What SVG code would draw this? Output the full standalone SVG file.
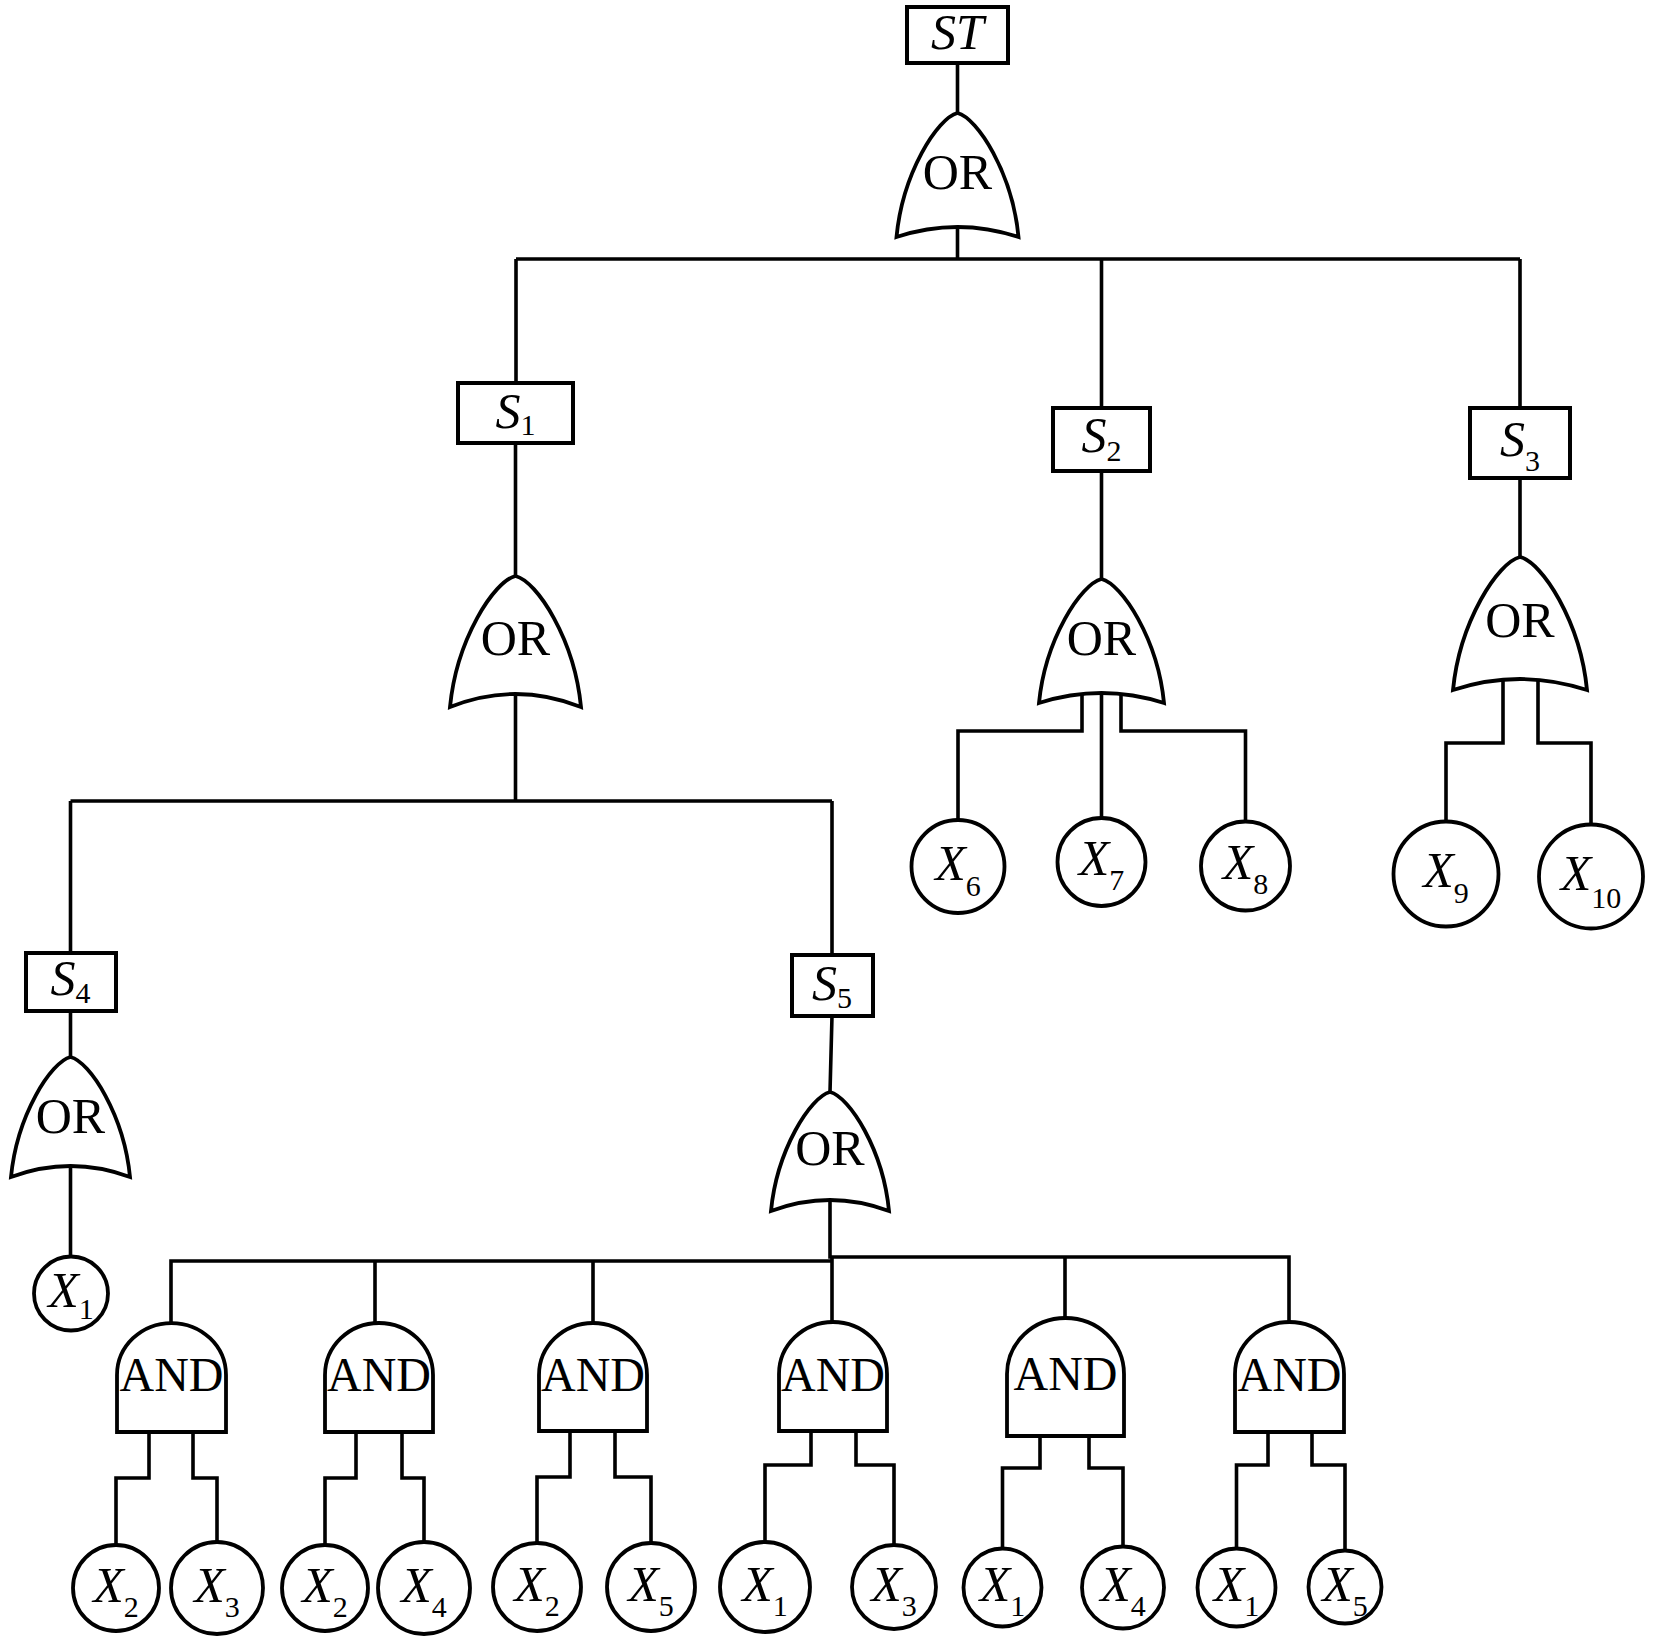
<svg xmlns="http://www.w3.org/2000/svg" width="1654" height="1642" viewBox="0 0 1654 1642">
<style>
.ln{fill:none;stroke:#000;stroke-width:3.6;stroke-linejoin:miter}
.bx{fill:#fff;stroke:#000;stroke-width:4}
.gt{fill:#fff;stroke:#000;stroke-width:3.8;stroke-linejoin:miter}
.ci{fill:#fff;stroke:#000;stroke-width:3.8}
text{font-family:"Liberation Serif","Times New Roman",serif;fill:#000;text-anchor:middle}
.lb{font-size:50px}
.it{font-style:italic}
.sb{font-size:30px;font-style:normal}
.and{font-size:48px}
</style>
<rect width="1654" height="1642" fill="#fff"/>
<g id="connectors" class="ln">
<path d="M957.5,63V113M957.5,227V259M516,259H1520M516,259V383M1101.5,259V408M1520,259V408"/>
<path d="M515.5,443V576M1101.5,471V579M1520,478V557"/>
<path d="M515.5,694V801M70.5,801H832M70.5,801V953M832,801V955"/>
<path d="M1082,694V731H958V820M1101.5,693V818M1121,694V731H1245.5V821.5"/>
<path d="M1503,681V743H1446V821.5M1538,681V743H1591V824.5"/>
<path d="M70.5,1011V1057M70.5,1166V1256.5"/>
<path d="M832,1016L830,1092M830,1200V1257H1289V1322M171,1323V1261H832M832,1257V1322M375,1261V1323M593,1261V1323M1065,1257V1318"/>
<path d="M149,1432V1478H116V1545M193,1432V1478H217V1542"/>
<path d="M356,1432V1478H325V1545M402,1432V1478H424V1542"/>
<path d="M570,1431V1477H537V1543M615,1431V1477H651V1543"/>
<path d="M811,1431V1465H765V1542M856,1431V1465H894V1545"/>
<path d="M1040,1436V1468H1002.5V1548.5M1089,1436V1468H1123V1546.5"/>
<path d="M1268,1432V1465H1236.5V1548.5M1312,1432V1465H1345V1550.5"/>
</g>
<g id="ST"><rect class="bx" x="907" y="7" width="101" height="56"/><text class="lb it" x="957.5" y="49">ST</text></g>
<g id="orTop"><path class="gt" d="M957.5,113C977.5,118 1012.4,173 1018.5,237Q957.5,217 896.5,237C902.6,173 937.5,118 957.5,113Z"/><text class="lb" x="957.5" y="189">OR</text></g>
<g id="S1"><rect class="bx" x="458" y="383" width="115" height="60"/><text class="lb" x="515.5" y="428"><tspan class="it">S</tspan><tspan class="sb" dy="7">1</tspan></text></g>
<g id="S2"><rect class="bx" x="1053" y="408" width="97" height="63"/><text class="lb" x="1101.5" y="452"><tspan class="it">S</tspan><tspan class="sb" dy="9">2</tspan></text></g>
<g id="S3"><rect class="bx" x="1470" y="408" width="100" height="70"/><text class="lb" x="1520" y="456"><tspan class="it">S</tspan><tspan class="sb" dy="15">3</tspan></text></g>
<g id="orS1"><path class="gt" d="M515.5,576C537,581.2 574.5,639.4 581,707Q515.5,681 450,707C456.5,639.4 494,581.2 515.5,576Z"/><text class="lb" x="515.5" y="655">OR</text></g>
<g id="orS2"><path class="gt" d="M1101.5,579C1122,584 1157.75,639 1164,703Q1101.5,683 1039,703C1045.25,639 1081,584 1101.5,579Z"/><text class="lb" x="1101.5" y="655">OR</text></g>
<g id="orS3"><path class="gt" d="M1520,557C1542,562.3 1580.3,621.4 1587,690Q1520,668 1453,690C1459.7,621.4 1498,562.3 1520,557Z"/><text class="lb" x="1520" y="637">OR</text></g>
<g id="X6"><circle class="ci" cx="958" cy="866.5" r="46.5"/><text class="lb" x="958" y="880"><tspan class="it">X</tspan><tspan class="sb" dy="16">6</tspan></text></g>
<g id="X7"><circle class="ci" cx="1101.5" cy="862" r="44"/><text class="lb" x="1101.5" y="875"><tspan class="it">X</tspan><tspan class="sb" dy="15">7</tspan></text></g>
<g id="X8"><circle class="ci" cx="1245.5" cy="866" r="44.5"/><text class="lb" x="1245.5" y="879"><tspan class="it">X</tspan><tspan class="sb" dy="15">8</tspan></text></g>
<g id="X9"><circle class="ci" cx="1446" cy="874" r="52.5"/><text class="lb" x="1446" y="887"><tspan class="it">X</tspan><tspan class="sb" dy="16">9</tspan></text></g>
<g id="X10"><circle class="ci" cx="1591" cy="876.5" r="52"/><text class="lb" x="1591" y="890"><tspan class="it">X</tspan><tspan class="sb" dy="18">10</tspan></text></g>
<g id="S4"><rect class="bx" x="26" y="953" width="90" height="58"/><text class="lb" x="70.5" y="995"><tspan class="it">S</tspan><tspan class="sb" dy="8">4</tspan></text></g>
<g id="S5"><rect class="bx" x="792" y="955" width="81" height="61"/><text class="lb" x="832" y="1000"><tspan class="it">S</tspan><tspan class="sb" dy="8">5</tspan></text></g>
<g id="orS4"><path class="gt" d="M70.5,1057C90,1061.8 124.05,1115.1 130,1177Q70.5,1155 11,1177C16.95,1115.1 51,1061.8 70.5,1057Z"/><text class="lb" x="70.5" y="1133">OR</text></g>
<g id="orS5"><path class="gt" d="M830,1092C849.4,1096.8 883.1,1149.6 889,1211Q830,1189 771,1211C776.9,1149.6 810.6,1096.8 830,1092Z"/><text class="lb" x="830" y="1165">OR</text></g>
<g id="X1a"><circle class="ci" cx="71" cy="1293.5" r="37"/><text class="lb" x="71" y="1307"><tspan class="it">X</tspan><tspan class="sb" dy="12">1</tspan></text></g>
<g id="and1"><path class="gt" d="M117,1432V1375A54.5,52 0 0 1 226,1375V1432Z"/><text class="and" x="171.5" y="1391">AND</text></g>
<g id="and2"><path class="gt" d="M325,1432V1375A54,52 0 0 1 433,1375V1432Z"/><text class="and" x="379" y="1391">AND</text></g>
<g id="and3"><path class="gt" d="M539,1431V1375A54,52 0 0 1 647,1375V1431Z"/><text class="and" x="593" y="1391">AND</text></g>
<g id="and4"><path class="gt" d="M779,1431V1374A54,52 0 0 1 887,1374V1431Z"/><text class="and" x="833" y="1391">AND</text></g>
<g id="and5"><path class="gt" d="M1007,1436V1374A58.5,56 0 0 1 1124,1374V1436Z"/><text class="and" x="1065.5" y="1390">AND</text></g>
<g id="and6"><path class="gt" d="M1235,1432V1374A54.5,52 0 0 1 1344,1374V1432Z"/><text class="and" x="1289.5" y="1391">AND</text></g>
<g id="b1"><circle class="ci" cx="116" cy="1588" r="43"/><text class="lb" x="116" y="1602"><tspan class="it">X</tspan><tspan class="sb" dy="15">2</tspan></text></g>
<g id="b2"><circle class="ci" cx="217" cy="1588" r="46"/><text class="lb" x="217" y="1602"><tspan class="it">X</tspan><tspan class="sb" dy="15">3</tspan></text></g>
<g id="b3"><circle class="ci" cx="325" cy="1588" r="43"/><text class="lb" x="325" y="1602"><tspan class="it">X</tspan><tspan class="sb" dy="15">2</tspan></text></g>
<g id="b4"><circle class="ci" cx="424" cy="1588" r="46"/><text class="lb" x="424" y="1602"><tspan class="it">X</tspan><tspan class="sb" dy="15">4</tspan></text></g>
<g id="b5"><circle class="ci" cx="537" cy="1587" r="44"/><text class="lb" x="537" y="1601"><tspan class="it">X</tspan><tspan class="sb" dy="15">2</tspan></text></g>
<g id="b6"><circle class="ci" cx="651" cy="1587" r="44"/><text class="lb" x="651" y="1601"><tspan class="it">X</tspan><tspan class="sb" dy="15">5</tspan></text></g>
<g id="b7"><circle class="ci" cx="765" cy="1587" r="45"/><text class="lb" x="765" y="1601"><tspan class="it">X</tspan><tspan class="sb" dy="15">1</tspan></text></g>
<g id="b8"><circle class="ci" cx="894" cy="1587" r="42"/><text class="lb" x="894" y="1601"><tspan class="it">X</tspan><tspan class="sb" dy="15">3</tspan></text></g>
<g id="b9"><circle class="ci" cx="1002.5" cy="1587.5" r="39"/><text class="lb" x="1002.5" y="1601"><tspan class="it">X</tspan><tspan class="sb" dy="15">1</tspan></text></g>
<g id="b10"><circle class="ci" cx="1123" cy="1587.5" r="41"/><text class="lb" x="1123" y="1601"><tspan class="it">X</tspan><tspan class="sb" dy="15">4</tspan></text></g>
<g id="b11"><circle class="ci" cx="1236.5" cy="1587.5" r="39"/><text class="lb" x="1236.5" y="1601"><tspan class="it">X</tspan><tspan class="sb" dy="15">1</tspan></text></g>
<g id="b12"><circle class="ci" cx="1345" cy="1587" r="36.5"/><text class="lb" x="1345" y="1601"><tspan class="it">X</tspan><tspan class="sb" dy="15">5</tspan></text></g>
</svg>
